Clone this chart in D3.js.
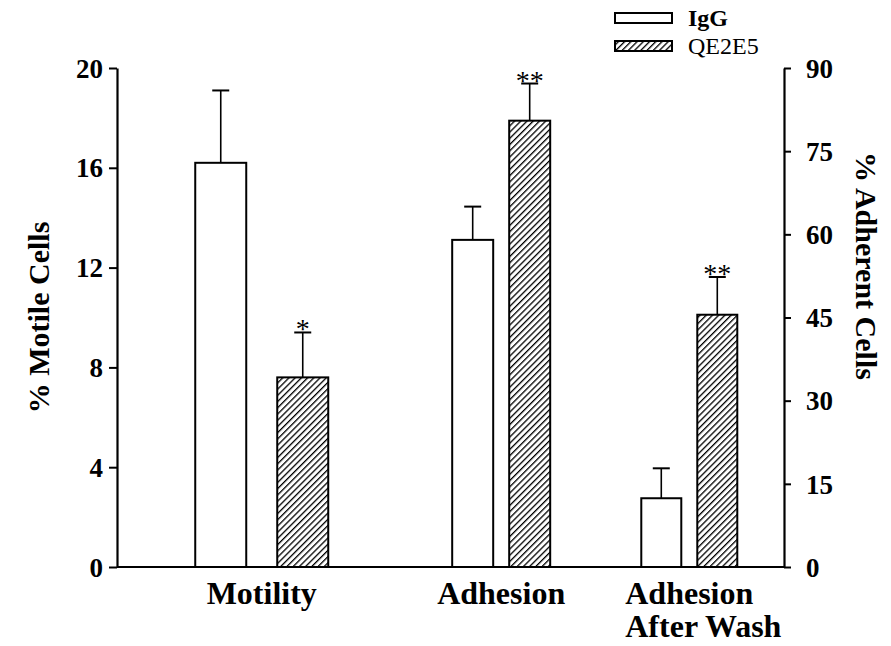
<!DOCTYPE html>
<html>
<head>
<meta charset="utf-8">
<script src="https://cdn.jsdelivr.net/npm/d3@7"></script>
<style>
  body { margin: 0; background: #fff; }
  text { font-family: "Liberation Serif", "Times New Roman", serif; fill: #000; }
</style>
</head>
<body>
<div id="chart"></div>
<script>
// data
var categories = ["Motility", "Adhesion", "Adhesion|After Wash"];
var seriesNames = ["IgG", "QE2E5"];
var iggMean = [16.2, 59.0, 12.4];
var iggErr  = [2.9, 6.0, 5.4];
var qeMean  = [7.6, 80.5, 45.5];
var qeErr   = [1.8, 6.7, 6.8];
var qeSig   = ["*", "**", "**"];
var whichAxis = ["left", "right", "right"];   // motility on left axis, adhesion on right
var leftTicks  = [0, 4, 8, 12, 16, 20];
var rightTicks = [0, 15, 30, 45, 60, 75, 90];

// layout
var width = 891, height = 646;
var margin = {left: 117, top: 68, right: 107, bottom: 79};
var groupPos = [0.217, 0.576, 0.858];   // group centres as fraction of plot width
var barW = [51, 41, 40];
var barGap = [31, 16, 16];

var svg = d3.select("#chart").append("svg")
    .attr("width", width)
    .attr("height", height);

var defs = svg.append("defs");
var pat = defs.append("pattern")
    .attr("id", "hatch")
    .attr("patternUnits", "userSpaceOnUse")
    .attr("width", 4.4).attr("height", 4.4)
    .attr("patternTransform", "rotate(45)");
pat.append("rect").attr("width", 4.4).attr("height", 4.4).attr("fill", "#fff");
pat.append("line")
    .attr("x1", 0).attr("y1", 0).attr("x2", 0).attr("y2", 4.4)
    .attr("stroke", "#000").attr("stroke-width", 2.6);

var x = d3.scaleLinear().domain([0, 1]).range([margin.left, width - margin.right]);
var yL = d3.scaleLinear().domain([0, 20]).range([height - margin.bottom, margin.top]);
var yR = d3.scaleLinear().domain([0, 90]).range([height - margin.bottom, margin.top]);

// build bars table
var bars = [];
categories.forEach(function(c, i) {
  var cx = x(groupPos[i]);
  var off = (barW[i] + barGap[i]) / 2;
  bars.push({g: i, s: 0, cx: cx - off, v: iggMean[i], e: iggErr[i], sig: ""});
  bars.push({g: i, s: 1, cx: cx + off, v: qeMean[i], e: qeErr[i], sig: qeSig[i]});
});
function yOf(i) { return whichAxis[i] == "left" ? yL : yR; }

// axes
var axL = svg.append("g")
    .attr("transform", "translate(" + margin.left + ",0)")
    .call(d3.axisLeft(yL).tickValues(leftTicks).tickSize(8).tickSizeOuter(0).tickPadding(6));
var axR = svg.append("g")
    .attr("transform", "translate(" + (width - margin.right) + ",0)")
    .call(d3.axisRight(yR).tickValues(rightTicks).tickSize(7).tickSizeOuter(0).tickPadding(15));
[axL, axR].forEach(function(a) {
  a.select(".domain").attr("stroke", "#000").attr("stroke-width", 2.2);
  a.selectAll(".tick line").attr("stroke", "#000").attr("stroke-width", 2);
  a.selectAll(".tick text")
      .attr("font-family", "Liberation Serif")
      .attr("font-weight", "bold")
      .attr("font-size", 27)
      .attr("dy", "0.34em");
});

// baseline
svg.append("line")
    .attr("x1", margin.left).attr("x2", width - margin.right)
    .attr("y1", yL(0)).attr("y2", yL(0))
    .attr("stroke", "#000").attr("stroke-width", 2.2);

// error bars (up only)
var eb = svg.append("g").selectAll("g").data(bars).enter().append("g");
eb.append("line")
    .attr("x1", function(d) { return d.cx; })
    .attr("x2", function(d) { return d.cx; })
    .attr("y1", function(d) { return yOf(d.g)(d.v); })
    .attr("y2", function(d) { return yOf(d.g)(d.v + d.e); })
    .attr("stroke", "#000").attr("stroke-width", 1.6);
eb.append("line")
    .attr("x1", function(d) { return d.cx - 8.5; })
    .attr("x2", function(d) { return d.cx + 8.5; })
    .attr("y1", function(d) { return yOf(d.g)(d.v + d.e); })
    .attr("y2", function(d) { return yOf(d.g)(d.v + d.e); })
    .attr("stroke", "#000").attr("stroke-width", 2);
eb.filter(function(d) { return d.sig; }).append("text")
    .attr("x", function(d) { return d.cx; })
    .attr("y", function(d) { return yOf(d.g)(d.v + d.e) + 6; })
    .attr("text-anchor", "middle")
    .attr("font-size", 28)
    .text(function(d) { return d.sig; });

// bars
svg.append("g").selectAll("rect").data(bars).enter().append("rect")
    .attr("x", function(d) { return d.cx - barW[d.g] / 2; })
    .attr("width", function(d) { return barW[d.g]; })
    .attr("y", function(d) { return yOf(d.g)(d.v); })
    .attr("height", function(d) { return yOf(d.g)(0) - yOf(d.g)(d.v); })
    .attr("fill", function(d) { return d.s == 0 ? "#fff" : "url(#hatch)"; })
    .attr("stroke", "#000").attr("stroke-width", 2);

// category labels
categories.forEach(function(c, i) {
  var lines = c.split("|");
  var t = svg.append("text")
      .attr("x", x(groupPos[i]))
      .attr("y", 604)
      .attr("text-anchor", "middle")
      .attr("font-weight", "bold")
      .attr("font-size", 32)
      .text(lines[0]);
  if (lines.length > 1) {
    var bb = t.node().getBBox();
    svg.append("text")
        .attr("x", bb.x)
        .attr("y", 637)
        .attr("font-weight", "bold")
        .attr("font-size", 32)
        .text(lines[1]);
  }
});

// axis titles
svg.append("text")
    .attr("transform", "translate(49," + ((margin.top + yL(0)) / 2) + ") rotate(-90)")
    .attr("text-anchor", "middle")
    .attr("font-weight", "bold")
    .attr("font-size", 30)
    .text("% Motile Cells");
svg.append("text")
    .attr("transform", "translate(856,266) rotate(90)")
    .attr("text-anchor", "middle")
    .attr("font-weight", "bold")
    .attr("font-size", 30)
    .text("% Adherent Cells");

// legend
var leg = svg.append("g").attr("transform", "translate(615,13)");
seriesNames.forEach(function(s, i) {
  leg.append("rect")
      .attr("x", 0).attr("y", i * 28)
      .attr("width", 57).attr("height", 10)
      .attr("fill", i == 0 ? "#fff" : "url(#hatch)")
      .attr("stroke", "#000").attr("stroke-width", 2);
  leg.append("text")
      .attr("x", 73).attr("y", i * 28 + 13)
      .attr("font-size", 24)
      .attr("font-weight", i == 0 ? "bold" : "normal")
      .text(s);
});
</script>
</body>
</html>
